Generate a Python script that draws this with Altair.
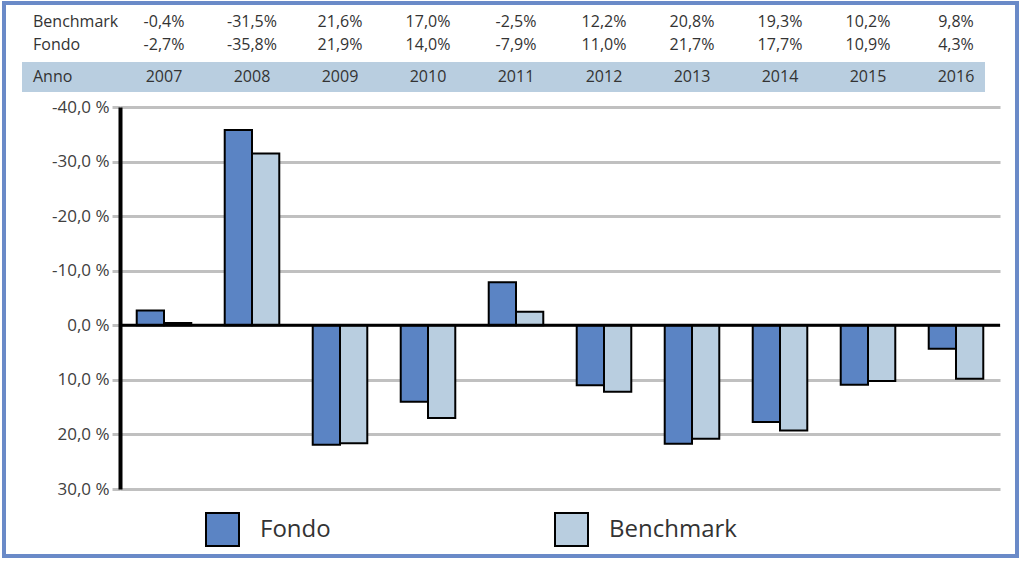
import altair as alt
import pandas as pd

# ---- data ----
years = ["2007", "2008", "2009", "2010", "2011", "2012", "2013", "2014", "2015", "2016"]
fondo = [-2.7, -35.8, 21.9, 14.0, -7.9, 11.0, 21.7, 17.7, 10.9, 4.3]
benchmark = [-0.4, -31.5, 21.6, 17.0, -2.5, 12.2, 20.8, 19.3, 10.2, 9.8]
series = ["Fondo", "Benchmark"]
series_colors = ["#5b84c4", "#b9cee0"]
y_ticks = [-40, -30, -20, -10, 0, 10, 20, 30]
row_labels = ["Benchmark", "Fondo", "Anno"]

FONT = "Open Sans"
TXT = "#333333"


def fmt(v):
    return f"{v:.1f}".replace(".", ",") + "%"


bars_df = pd.DataFrame(
    [{"year": y, "series": "Fondo", "value": f} for y, f in zip(years, fondo)]
    + [{"year": y, "series": "Benchmark", "value": b} for y, b in zip(years, benchmark)]
)
table_df = pd.DataFrame({
    "year": years,
    "fondo_txt": [fmt(v) for v in fondo],
    "bench_txt": [fmt(v) for v in benchmark],
})
one = pd.DataFrame({"value": [0]})

x_enc = alt.X("year:N", scale=alt.Scale(domain=years, paddingInner=0.38, paddingOuter=0.19), axis=None)

y_enc = alt.Y(
    "value:Q",
    scale=alt.Scale(domain=[-40, 30], reverse=True, nice=False, zero=False),
    axis=alt.Axis(
        values=y_ticks,
        labelExpr="replace(replace(format(datum.value, '.1f'), '.', ','), '\u2212', '-') + ' %'",
        title=None,
        grid=True,
        gridColor="#c0c0c0",
        gridWidth=3,
        domainColor="black",
        domainWidth=4,
        tickColor="#c0c0c0",
        tickWidth=3,
        tickSize=8,
        labelFontSize=17,
        labelColor="#404040",
        labelFont=FONT,
        labelPadding=3,
    ),
)

border = alt.Chart(one).mark_rect(filled=False, stroke="#6a8ac8", strokeWidth=4).encode(
    x=alt.value(-116), x2=alt.value(897), y=alt.value(-104), y2=alt.value(449)
)

band = alt.Chart(one).mark_rect(color="#b9cee0").encode(
    x=alt.value(-98), x2=alt.value(865), y=alt.value(-45), y2=alt.value(-15)
)

bars = alt.Chart(bars_df).mark_bar(stroke="black", strokeWidth=2).encode(
    x=x_enc,
    xOffset=alt.XOffset("series:N", scale=alt.Scale(domain=series)),
    y=y_enc,
    color=alt.Color(
        "series:N",
        scale=alt.Scale(domain=series, range=series_colors),
        legend=alt.Legend(
            orient="none",
            legendX=85,
            legendY=405,
            direction="horizontal",
            title=None,
            symbolType="square",
            symbolSize=1089,
            symbolStrokeColor="black",
            symbolStrokeWidth=2,
            labelFontSize=24,
            labelFont=FONT,
            labelColor=TXT,
            labelOffset=20,
            columnPadding=220,
            padding=0,
        ),
    ),
)

zero = alt.Chart(one).mark_rule(color="black", strokeWidth=3).encode(y=y_enc)

t_bench = alt.Chart(table_df).mark_text(fontSize=16, font=FONT, color=TXT).encode(
    x=x_enc, y=alt.value(-85), text="bench_txt:N"
)
t_fondo = alt.Chart(table_df).mark_text(fontSize=16, font=FONT, color=TXT).encode(
    x=x_enc, y=alt.value(-62), text="fondo_txt:N"
)
t_year = alt.Chart(table_df).mark_text(fontSize=16, font=FONT, color=TXT).encode(
    x=x_enc, y=alt.value(-30), text="year:N"
)

label_layers = []
for lbl, ypos in zip(row_labels, [-85, -62, -30]):
    label_layers.append(
        alt.Chart(one).mark_text(text=lbl, fontSize=16, font=FONT, color=TXT, align="left").encode(
            x=alt.value(-87), y=alt.value(ypos)
        )
    )

chart = alt.layer(border, band, bars, zero, t_bench, t_fondo, t_year, *label_layers).properties(
    width=880,
    height=382,
    autosize=alt.AutoSizeParams(type="none"),
    padding={"left": 120, "top": 107, "right": 24, "bottom": 73},
    background="white",
).configure_view(strokeWidth=0)

chart.save("out.html", embed_options={"renderer": "svg", "actions": False})
